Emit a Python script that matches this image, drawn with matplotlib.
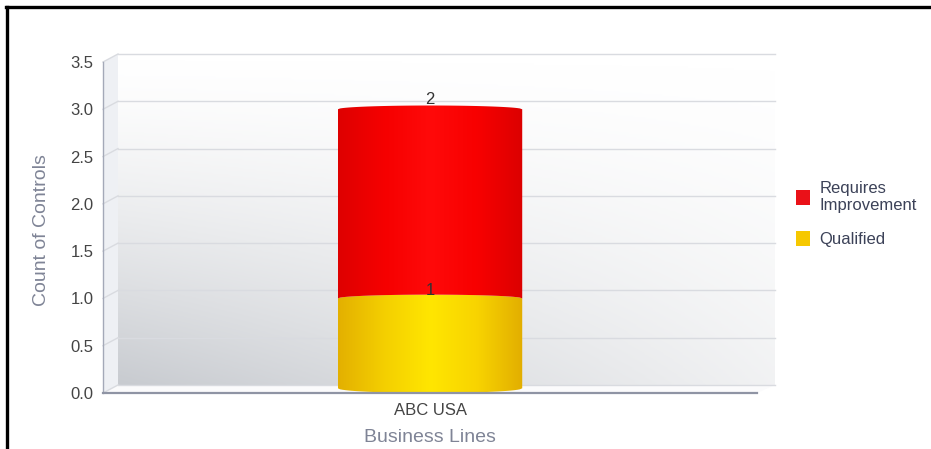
import numpy as np
import matplotlib
matplotlib.use("Agg")
import matplotlib.pyplot as plt
from matplotlib.colors import LinearSegmentedColormap
from matplotlib.patches import PathPatch, Polygon, Patch
from matplotlib.path import Path
from matplotlib.lines import Line2D

plt.rcParams['font.family'] = ['Liberation Sans', 'DejaVu Sans']

categories = ["ABC USA"]
series_names = ["Qualified", "Requires Improvement"]
qualified = [1]
requires_improvement = [2]
y_ticks = [0.0, 0.5, 1.0, 1.5, 2.0, 2.5, 3.0, 3.5]

W, H = 931, 449
fig = plt.figure(figsize=(W / 100, H / 100), dpi=100)
ax = fig.add_axes([103 / W, (H - 393) / H, 654 / W, 331 / H])
ax.set_facecolor("none")
ax.set_xlim(-0.5, len(categories) - 0.5)
ax.set_ylim(0, 3.5)

# depth offset of the back wall, in data units
dx = 15 / 654 * (len(categories))
dy = 8 / 331 * 3.5
x0, x1 = ax.get_xlim()

# back wall gradient (grey at the bottom, fading to white up and right)
gx, gy = np.meshgrid(np.linspace(0, 1, 200), np.linspace(0, 1, 200))
shade = np.clip((1 - gy) ** 1.4 * (1 - 0.75 * gx), 0, 1)
wall_cmap = LinearSegmentedColormap.from_list("wall", ["#ffffff", "#c8cbd0"])
ax.imshow(shade, cmap=wall_cmap, vmin=0, vmax=1, origin="lower", aspect="auto",
          extent=[x0 + dx, x1 + dx * 1.2, dy, 3.5 + dy], zorder=0, clip_on=False,
          interpolation="bilinear")

# left side wall
ax.add_patch(Polygon([[x0, 0], [x0, 3.5], [x0 + dx, 3.5 + dy], [x0 + dx, dy]],
                     closed=True, facecolor="#eef0f4", edgecolor="none",
                     zorder=0.5, clip_on=False))
# floor
ax.add_patch(Polygon([[x0, 0], [x0 + dx, dy], [x1 + dx * 1.2, dy], [x1, 0]],
                     closed=True, facecolor="#fbfbfc", edgecolor="none",
                     zorder=0.5, clip_on=False))

# grid lines on back wall and side wall
for t in y_ticks:
    ax.plot([x0 + dx, x1 + dx * 1.2], [t + dy, t + dy], color="#d9dbe0", lw=1.0,
            zorder=1, clip_on=False)
    ax.plot([x0, x0 + dx], [t, t + dy], color="#d9dbe0", lw=1.0, zorder=1, clip_on=False)


def cylinder(xc, width, y0, y1, colors, rounded_bottom):
    e_top = 0.04
    e_bot = 0.05
    t = np.linspace(-1, 1, 80)
    s = np.sqrt(1 - t ** 2)
    xs = xc + t * width / 2
    top = y1 + e_top * s
    if rounded_bottom:
        bot = y0 + e_bot * (1 - s)
    else:
        bot = y0 + e_top * s
    verts = np.concatenate([np.column_stack([xs, bot]),
                            np.column_stack([xs[::-1], top[::-1]]),
                            [[xs[0], bot[0]]]])
    codes = [Path.MOVETO] + [Path.LINETO] * (len(verts) - 2) + [Path.CLOSEPOLY]
    clip = PathPatch(Path(verts, codes), facecolor="none", edgecolor="none")
    ax.add_patch(clip)
    cmap = LinearSegmentedColormap.from_list("c", colors)
    grad = np.linspace(0, 1, 256).reshape(1, -1)
    im = ax.imshow(grad, cmap=cmap, aspect="auto", origin="lower",
                   extent=[xc - width / 2, xc + width / 2, y0 - 0.05, y1 + 0.1],
                   zorder=3, interpolation="bilinear")
    im.set_clip_path(clip)


bar_w = 0.282
yellow = ["#e3b000", "#f4cf00", "#ffe600", "#f8d400", "#e2ae00"]
red = ["#de0000", "#f60000", "#ff0a0a", "#f80000", "#dc0000"]
for i, cat in enumerate(categories):
    q = qualified[i]
    r = requires_improvement[i]
    cylinder(i, bar_w, 0, q, yellow, True)
    cylinder(i, bar_w, q, q + r, red, False)
    ax.annotate(str(q), (i, q), xytext=(0, 6), textcoords="offset points",
                ha="center", va="center", fontsize=12, color="#333333", zorder=5)
    ax.annotate(str(r), (i, q + r), xytext=(0, 7), textcoords="offset points",
                ha="center", va="center", fontsize=12, color="#333333", zorder=5)

ax.set_xticks(range(len(categories)))
ax.set_xticklabels(categories)
ax.set_yticks(y_ticks)
ax.set_yticklabels([f"{v:.1f}" for v in y_ticks])
ax.tick_params(axis="both", length=0, labelsize=12, labelcolor="#444444")
ax.tick_params(axis="y", pad=7)
ax.tick_params(axis="x", pad=7)
for side in ["top", "right"]:
    ax.spines[side].set_visible(False)
ax.spines["left"].set_color("#a4a9b8")
ax.spines["left"].set_linewidth(1.0)
ax.spines["bottom"].set_color("#8f94a4")
ax.spines["bottom"].set_linewidth(1.6)
ax.spines["left"].set_zorder(6)
ax.spines["bottom"].set_zorder(6)

ax.set_ylabel("Count of Controls", fontsize=14, color="#7f8496", va="center", ha="center")
ax.yaxis.set_label_coords(-61 / 654, 163 / 331)
ax.set_xlabel("Business Lines", fontsize=14, color="#7f8496", va="center", ha="center")
ax.xaxis.set_label_coords(0.5, -45 / 331)

handles = [Patch(facecolor="#ea1118", edgecolor="none"),
           Patch(facecolor="#f6c800", edgecolor="none")]
fig.legend(handles, ["Requires\nImprovement", "Qualified"], loc="upper left",
           bbox_to_anchor=(796 / W, 1 - 181 / H), frameon=False, fontsize=12,
           labelcolor="#3c4258", handlelength=0.85, handleheight=1.0,
           handletextpad=0.55, labelspacing=1.05, borderaxespad=0,
           borderpad=0)

# outer frame (top and left edges)
fig.add_artist(Line2D([6 / W, 1], [1 - 7 / H, 1 - 7 / H], color="black", lw=2.4))
fig.add_artist(Line2D([7 / W, 7 / W], [0, 1 - 7 / H], color="black", lw=2.4))

fig.savefig("out.png", dpi=100)
